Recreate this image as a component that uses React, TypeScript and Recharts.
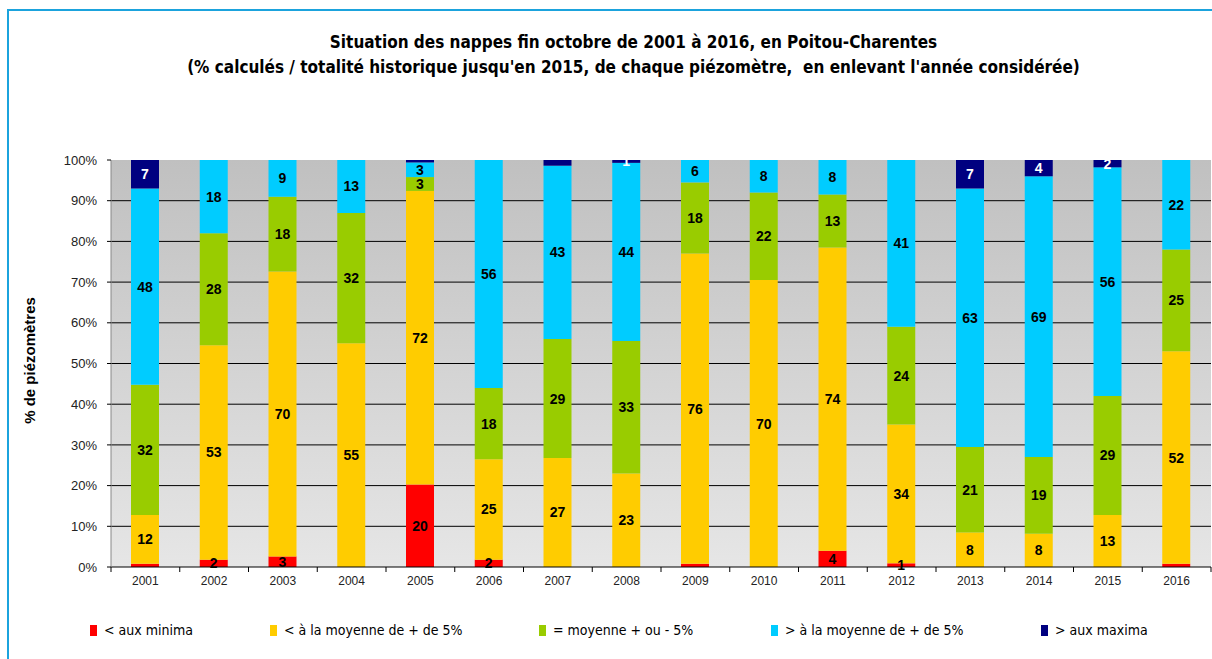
import { BarChart, Bar, XAxis, YAxis, CartesianGrid, LabelList } from 'recharts';

// Situation des nappes fin octobre, % de piézomètres par classe
const years = ['2001', '2002', '2003', '2004', '2005', '2006', '2007', '2008', '2009', '2010', '2011', '2012', '2013', '2014', '2015', '2016'];
const minima = [0.8, 1.8, 2.6, 0, 20.3, 1.8, 0, 0, 0.8, 0, 4, 0.9, 0, 0, 0, 0.8];
const belowAvg = [12, 52.7, 70, 55, 72.1, 24.7, 26.8, 23, 76.2, 70.5, 74.5, 34.1, 8.5, 8.2, 12.8, 52.2];
const nearAvg = [32, 27.5, 18.4, 32, 3.4, 17.5, 29.2, 32.5, 17.5, 21.5, 13, 24, 21, 18.8, 29.2, 25];
const aboveAvg = [48.2, 18, 9, 13, 3.6, 56, 42.6, 43.8, 5.5, 8, 8.5, 41, 63.5, 69, 56.2, 22];
const maxima = [7, 0, 0, 0, 0.6, 0, 1.4, 0.7, 0, 0, 0, 0, 7, 4, 1.8, 0];

// étiquettes affichées dans les barres ('' = pas d'étiquette)
const minimaLabels = ['', '2', '3', '', '20', '2', '', '', '', '', '4', '1', '', '', '', ''];
const belowLabels = ['12', '53', '70', '55', '72', '25', '27', '23', '76', '70', '74', '34', '8', '8', '13', '52'];
const nearLabels = ['32', '28', '18', '32', '3', '18', '29', '33', '18', '22', '13', '24', '21', '19', '29', '25'];
const aboveLabels = ['48', '18', '9', '13', '3', '56', '43', '44', '6', '8', '8', '41', '63', '69', '56', '22'];
const maximaLabels = ['7', '', '', '', '', '', '', '1', '', '', '', '', '7', '4', '2', ''];

const yTicks = [0, 10, 20, 30, 40, 50, 60, 70, 80, 90, 100];
const gridValues = [10, 20, 30, 40, 50, 60, 70, 80, 90];

const series = [
  { key: 'minima', label: 'minimaLbl', name: '< aux minima', color: '#ff0000', text: '#000' },
  { key: 'below', label: 'belowLbl', name: '< à la moyenne de + de 5%', color: '#ffcc00', text: '#000' },
  { key: 'near', label: 'nearLbl', name: '= moyenne + ou - 5%', color: '#99cc00', text: '#000' },
  { key: 'above', label: 'aboveLbl', name: '> à la moyenne de + de 5%', color: '#00ccff', text: '#000' },
  { key: 'maxima', label: 'maximaLbl', name: '> aux maxima', color: '#000080', text: '#fff' },
];

const chartData = years.map((year, i) => ({
  year,
  minima: minima[i],
  below: belowAvg[i],
  near: nearAvg[i],
  above: aboveAvg[i],
  maxima: maxima[i],
  minimaLbl: minimaLabels[i],
  belowLbl: belowLabels[i],
  nearLbl: nearLabels[i],
  aboveLbl: aboveLabels[i],
  maximaLbl: maximaLabels[i],
}));

const FONT = '"Liberation Sans", Arial, sans-serif';
const NARROW = '"Liberation Sans Narrow", "DejaVu Sans Condensed", "Liberation Sans", sans-serif';

const legendLeft = [90, 270, 539, 771, 1041];

const makeLabel = (color: string) => (props: any) => {
  const { x, y, width, height, value } = props;
  if (!value) return null;
  return (
    <text
      x={x + width / 2}
      y={y + height / 2}
      textAnchor="middle"
      dominantBaseline="central"
      fill={color}
      fontFamily={FONT}
      fontWeight="bold"
      fontSize={14}
    >
      {value}
    </text>
  );
};

const YearTick = (props: any) => {
  const { x, y, payload, index } = props;
  const half = payload.offset || 0;
  return (
    <g>
      <line x1={x - half} y1={y} x2={x - half} y2={y + 5} stroke="#000" />
      {index === years.length - 1 && <line x1={x + half} y1={y} x2={x + half} y2={y + 5} stroke="#000" />}
      <text x={x} y={y + 18} textAnchor="middle" fill="#222" fontFamily={FONT} fontSize={12}>
        {payload.value}
      </text>
    </g>
  );
};

export default function App() {
  return (
    <div style={{ position: 'absolute', left: 0, top: 0, width: 1212, height: 659, background: '#fff', overflow: 'hidden' }}>
      <div style={{ position: 'absolute', left: 7, top: 9, width: 1260, height: 700, borderLeft: '2px solid #1ba3dd', borderTop: '2px solid #1ba3dd' }} />
      <div style={{ position: 'absolute', left: 0, top: 30, width: 1267, textAlign: 'center', fontFamily: NARROW, fontWeight: 'bold', fontSize: 17, lineHeight: '25px', color: '#000' }}>
        <div>Situation des nappes fin octobre de 2001 à 2016, en Poitou-Charentes</div>
        <div>(% calculés / totalité historique jusqu'en 2015, de chaque piézomètre,&nbsp; en enlevant l'année considérée)</div>
      </div>
      <div style={{ position: 'absolute', left: 0, top: 0 }}>
        <BarChart width={1212} height={659} data={chartData} margin={{ top: 160, right: 1, left: 51, bottom: 62 }} barSize={28}>
          <defs>
            <linearGradient id="plotBg" x1="0" y1="0" x2="0" y2="1">
              <stop offset="0%" stopColor="#c0c0c0" />
              <stop offset="100%" stopColor="#e6e6e6" />
            </linearGradient>
          </defs>
          <CartesianGrid
            vertical={false}
            stroke="#000"
            fill="url(#plotBg)"
            fillOpacity={1}
            horizontalCoordinatesGenerator={({ offset }: any) =>
              gridValues.map((v) => offset.top + offset.height * (1 - v / 100))
            }
          />
          <XAxis
            dataKey="year"
            height={30}
            tickLine={false}
            tickSize={0}
            tickMargin={0}
            axisLine={{ stroke: '#000' }}
            tick={<YearTick />}
            interval={0}
          />
          <YAxis
            width={60}
            domain={[0, 100]}
            ticks={yTicks}
            tickFormatter={(v: number) => `${v}%`}
            axisLine={{ stroke: '#888' }}
            tickLine={{ stroke: '#000' }}
            tickSize={4}
            tickMargin={10}
            tick={{ fill: '#222', fontFamily: FONT, fontSize: 13 }}
            label={{
              value: '% de piézomètres',
              angle: -90,
              position: 'insideLeft',
              offset: 0,
              dx: -21,
              dy: -3,
              style: { textAnchor: 'middle', fontFamily: FONT, fontWeight: 'bold', fontSize: 15, fill: '#000' },
            }}
            allowDataOverflow
          />
          {series.map((s) => (
            <Bar key={s.key} dataKey={s.key} name={s.name} stackId="a" fill={s.color} isAnimationActive={false}>
              <LabelList dataKey={s.label} content={makeLabel(s.text)} />
            </Bar>
          ))}
        </BarChart>
      </div>
      {series.map((s, i) => (
        <div
          key={s.key}
          style={{
            position: 'absolute',
            left: legendLeft[i],
            top: 622,
            display: 'flex',
            alignItems: 'center',
            fontFamily: NARROW,
            fontSize: 14,
            color: '#000',
            whiteSpace: 'nowrap',
          }}
        >
          <span style={{ display: 'inline-block', width: 7, height: 11, background: s.color, marginRight: 7 }} />
          <span>{s.name}</span>
        </div>
      ))}
    </div>
  );
}
